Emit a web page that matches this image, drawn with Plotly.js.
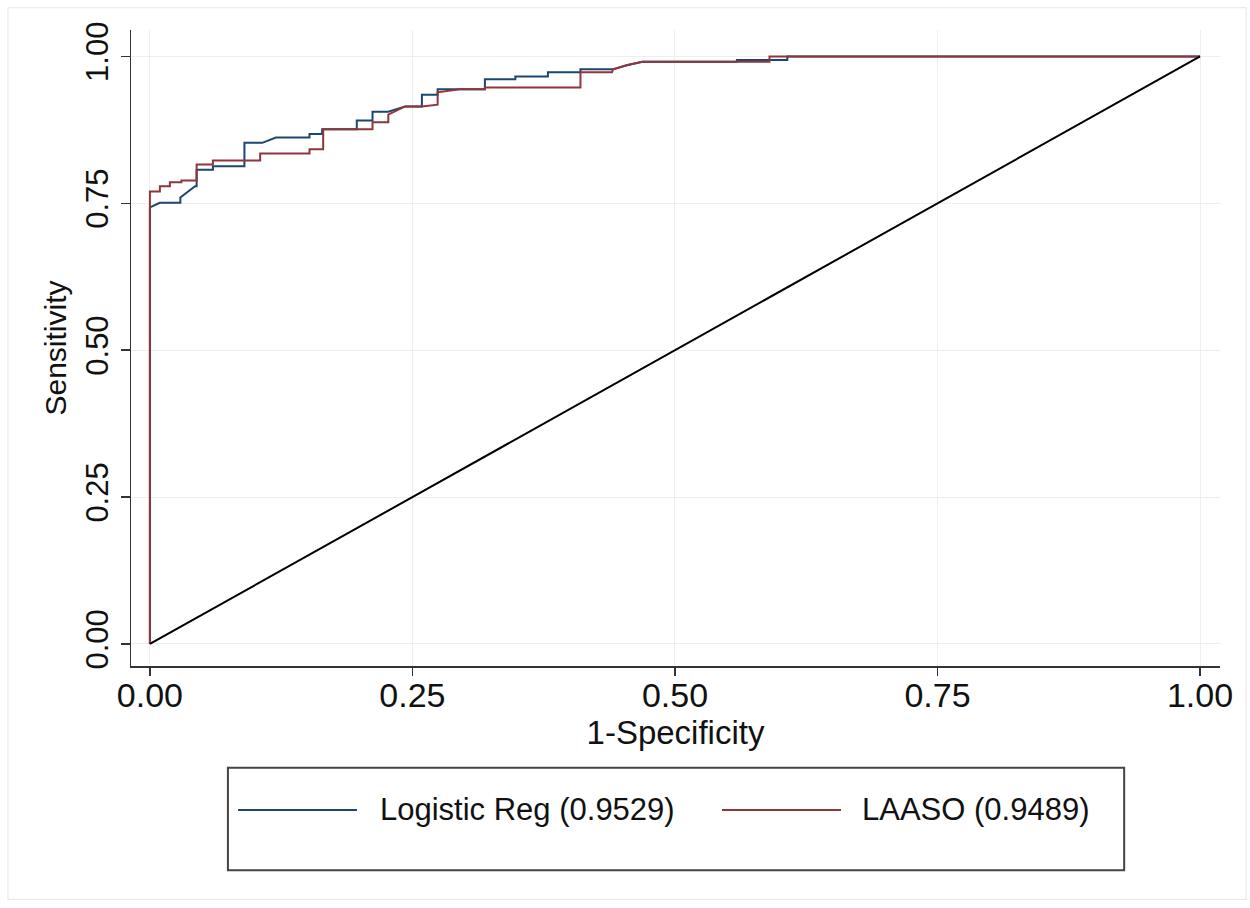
<!DOCTYPE html>
<html>
<head>
<meta charset="utf-8">
<script src="https://cdn.plot.ly/plotly-3.0.1.min.js"></script>
<style>html,body{margin:0;padding:0;background:#fff;}#chart{width:1250px;height:908px;}</style>
</head>
<body>
<div id="chart"></div>
<script>
// Logistic Reg ROC (1-Specificity, Sensitivity)
const logitFPR = [0, 0, 0.0095, 0.029, 0.029, 0.043, 0.0445, 0.0445, 0.06, 0.06, 0.09, 0.09, 0.107, 0.12, 0.152, 0.152, 0.164, 0.164, 0.197, 0.197, 0.212, 0.212, 0.227, 0.243, 0.259, 0.259, 0.274, 0.274, 0.295, 0.319, 0.319, 0.348, 0.348, 0.379, 0.379, 0.41, 0.41, 0.441, 0.454, 0.469, 0.559, 0.559, 0.607, 0.607, 1];
const logitTPR = [0, 0.743, 0.751, 0.751, 0.760, 0.779, 0.779, 0.807, 0.807, 0.813, 0.813, 0.853, 0.853, 0.862, 0.862, 0.868, 0.868, 0.876, 0.876, 0.891, 0.891, 0.906, 0.906, 0.915, 0.915, 0.935, 0.935, 0.944, 0.944, 0.944, 0.961, 0.961, 0.966, 0.966, 0.973, 0.973, 0.978, 0.978, 0.985, 0.991, 0.991, 0.994, 0.994, 1, 1];
// LAASO ROC
const lassoFPR = [0, 0, 0.0095, 0.0095, 0.019, 0.019, 0.03, 0.03, 0.0445, 0.0445, 0.06, 0.06, 0.105, 0.105, 0.152, 0.152, 0.165, 0.165, 0.212, 0.212, 0.227, 0.227, 0.243, 0.259, 0.274, 0.274, 0.295, 0.319, 0.319, 0.41, 0.41, 0.44, 0.441, 0.454, 0.469, 0.59, 0.59, 1];
const lassoTPR = [0, 0.770, 0.770, 0.779, 0.779, 0.786, 0.786, 0.789, 0.789, 0.816, 0.816, 0.823, 0.823, 0.835, 0.835, 0.842, 0.842, 0.876, 0.876, 0.888, 0.888, 0.901, 0.915, 0.915, 0.918, 0.939, 0.944, 0.944, 0.947, 0.947, 0.973, 0.973, 0.978, 0.985, 0.991, 0.991, 1, 1];
// Reference line
const refX = [0, 1];
const refY = [0, 1];
const seriesNames = ["Logistic Reg (0.9529)", "LAASO (0.9489)"];
const seriesColors = ["#1a476f", "#90353b"];
const tickVals = [0, 0.25, 0.5, 0.75, 1];
const tickText = ["0.00", "0.25", "0.50", "0.75", "1.00"];

const traces = [
  {x: logitFPR, y: logitTPR, mode: "lines", name: seriesNames[0], line: {color: seriesColors[0], width: 2}},
  {x: lassoFPR, y: lassoTPR, mode: "lines", name: seriesNames[1], line: {color: seriesColors[1], width: 2}},
  {x: refX, y: refY, mode: "lines", name: "Reference", line: {color: "#000000", width: 2}}
];

const fam = "Liberation Sans, Arial, sans-serif";
const txtColor = "#111";
const layout = {
  width: 1250, height: 908,
  margin: {l: 131, r: 30, t: 30, b: 242},
  paper_bgcolor: "#ffffff", plot_bgcolor: "#ffffff",
  font: {family: fam, size: 30, color: txtColor},
  showlegend: false,
  xaxis: {
    range: [-0.018, 1.019], tickvals: tickVals, ticktext: tickText,
    ticks: "outside", ticklen: 8, tickwidth: 1.5, tickcolor: "#333",
    ticklabelstandoff: -9,
    showline: true, linecolor: "#333", linewidth: 1.5,
    showgrid: true, gridcolor: "#eeeeee", gridwidth: 1, zeroline: false,
    tickfont: {family: fam, size: 34, color: txtColor},
    title: {text: "1-Specificity", font: {family: fam, size: 33, color: txtColor}, standoff: 2}
  },
  yaxis: {
    range: [-0.0375, 1.045], tickvals: tickVals, ticktext: tickText,
    ticks: "outside", ticklen: 9, tickwidth: 1.5, tickcolor: "#333", tickangle: -90,
    showline: true, linecolor: "#333", linewidth: 1.5,
    showgrid: true, gridcolor: "#eeeeee", gridwidth: 1, zeroline: false,
    tickfont: {family: fam, size: 31, color: txtColor},
    title: {text: "Sensitivity", font: {family: fam, size: 30, color: txtColor}, standoff: 4}
  },
  shapes: [
    // legend box
    {type: "rect", xref: "paper", yref: "paper", x0: 0.089, x1: 0.912, y0: -0.160, y1: -0.321,
     line: {color: "#444", width: 2}, fillcolor: "rgba(0,0,0,0)"},
    // legend keys
    {type: "line", xref: "paper", yref: "paper", x0: 0.0983, x1: 0.2075, y0: -0.2264, y1: -0.2264,
     line: {color: seriesColors[0], width: 2}},
    {type: "line", xref: "paper", yref: "paper", x0: 0.5427, x1: 0.652, y0: -0.2264, y1: -0.2264,
     line: {color: seriesColors[1], width: 2}},
    // outer graph region frame
    {type: "rect", xref: "paper", yref: "paper", x0: -0.113, x1: 1.024, y0: 1.035, y1: -0.367,
     line: {color: "#e6e6e6", width: 1}, fillcolor: "rgba(0,0,0,0)", layer: "below"}
  ],
  annotations: [
    {xref: "paper", yref: "paper", x: 0.2268, y: -0.2264, xanchor: "left", yanchor: "middle",
     text: seriesNames[0], showarrow: false, font: {family: fam, size: 31, color: txtColor}},
    {xref: "paper", yref: "paper", x: 0.6694, y: -0.2264, xanchor: "left", yanchor: "middle",
     text: seriesNames[1], showarrow: false, font: {family: fam, size: 31, color: txtColor}}
  ]
};

Plotly.newPlot("chart", traces, layout, {staticPlot: true, displayModeBar: false});
</script>
</body>
</html>
